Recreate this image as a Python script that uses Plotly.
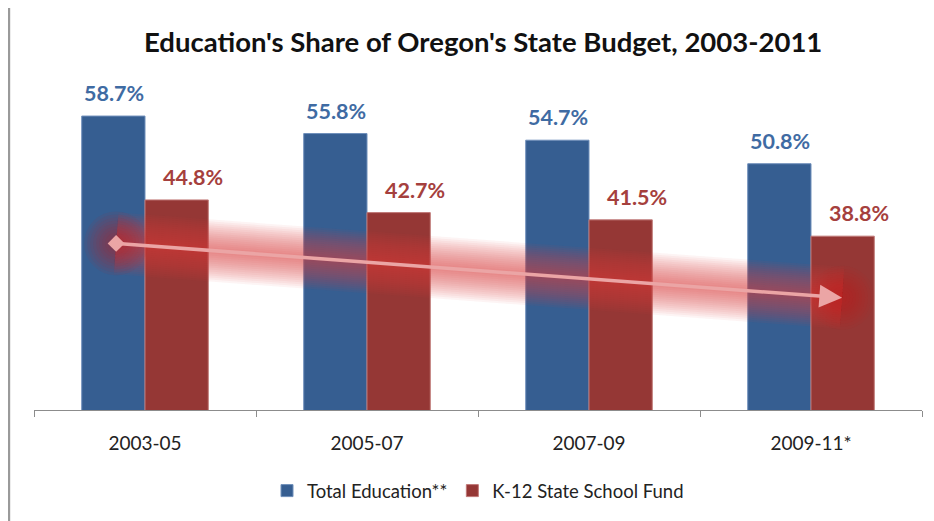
import plotly.graph_objects as go

categories = ["2003-05", "2005-07", "2007-09", "2009-11*"]
total_education = [58.7, 55.8, 54.7, 50.8]
k12_fund = [44.8, 42.7, 41.5, 38.8]
series_names = ["Total Education**", "K-12 State School Fund"]
title_text = "Education's Share of Oregon's State Budget, 2003-2011"

# decorative downward trend arrow (category-index x, percent y)
trend_x = [-0.13, 3.14]
trend_y = [37.6, 28.6]

BLUE = "#365E91"
RED = "#953735"
BLUE_TXT = "#3F6BA3"
RED_TXT = "#A5403D"
FONT = "Lato"

fig = go.Figure()
fig.add_trace(go.Bar(x=categories, y=total_education, name=series_names[0],
                     marker=dict(color=BLUE, line=dict(color="#6F8FBA", width=1))))
fig.add_trace(go.Bar(x=categories, y=k12_fund, name=series_names[1],
                     marker=dict(color=RED, line=dict(color="#C07877", width=1))))

# soft glow around trend line
for w in range(62, 4, -4):
    fig.add_trace(go.Scatter(x=trend_x, y=trend_y, xaxis="x2", yaxis="y", mode="lines",
                             line=dict(color="rgba(225,60,60,0.058)", width=w),
                             showlegend=False, hoverinfo="skip"))
for s in range(64, 8, -6):
    fig.add_trace(go.Scatter(x=trend_x, y=trend_y, xaxis="x2", yaxis="y", mode="markers",
                             marker=dict(color="rgba(205,25,25,0.07)", size=s, line=dict(width=0)),
                             showlegend=False, hoverinfo="skip"))
# diamond at start
fig.add_trace(go.Scatter(x=trend_x[:1], y=trend_y[:1], xaxis="x2", yaxis="y", mode="markers",
                         marker=dict(symbol="diamond", color="#EBA5A5", size=13, line=dict(width=0)),
                         showlegend=False, hoverinfo="skip"))

annotations = [dict(x=trend_x[1], y=trend_y[1], xref="x2", yref="y",
                    ax=trend_x[0], ay=trend_y[0], axref="x2", ayref="y",
                    showarrow=True, arrowhead=2, arrowsize=1.3, arrowwidth=3.5,
                    arrowcolor="#EBA5A5", text="")]
for i, c in enumerate(categories):
    annotations.append(dict(x=c, y=total_education[i], xref="x", yref="y",
                            text=f"{total_education[i]:.1f}%", showarrow=False,
                            xshift=-31.5, yshift=8, yanchor="bottom",
                            font=dict(family=FONT, size=21.5, color=BLUE_TXT, weight="bold")))
    annotations.append(dict(x=c, y=k12_fund[i], xref="x", yref="y",
                            text=f"{k12_fund[i]:.1f}%", showarrow=False,
                            xshift=47.5, yshift=8, yanchor="bottom",
                            font=dict(family=FONT, size=21.5, color=RED_TXT, weight="bold")))
annotations.append(dict(text=title_text, xref="paper", yref="paper", x=0.506, y=1.1,
                        showarrow=False, yanchor="middle",
                        font=dict(family=FONT, size=27.5, color="#111", weight="bold")))

# page border (figure sits 8px inside the window)
shapes = [
    dict(type="line", xref="paper", yref="paper", x0=-0.0285, x1=-0.0285, y0=1.23, y1=-0.36,
         line=dict(color="#9a9a9a", width=3)),
    dict(type="line", xref="paper", yref="paper", x0=-0.03, x1=1.1, y0=1.226, y1=1.226,
         line=dict(color="#b0b0b0", width=3)),
]

fig.update_layout(
    width=934, height=521,
    margin=dict(l=26, r=20, t=67, b=119),
    paper_bgcolor="white", plot_bgcolor="white",
    barmode="group", bargap=0.43, bargroupgap=0,
    font=dict(family=FONT, color="#222"),
    showlegend=True,
    legend=dict(orientation="h", x=0.5, xanchor="center", y=-0.242, yanchor="middle",
                font=dict(family=FONT, size=18.5, color="#222"), traceorder="normal"),
    xaxis=dict(type="category", showgrid=False, showline=True, linecolor="#8c8c8c",
               linewidth=1, ticks="outside", tickson="boundaries", ticklen=6,
               tickcolor="#8c8c8c", ticklabelstandoff=16,
               tickfont=dict(family=FONT, size=19, color="#222"), range=[-0.5, 3.5]),
    xaxis2=dict(overlaying="x", range=[-0.5, 3.5], visible=False, showgrid=False),
    yaxis=dict(range=[10, 65.5], visible=False, showgrid=False, zeroline=False),
    annotations=annotations,
    shapes=shapes,
)

fig.write_html("out.html")
